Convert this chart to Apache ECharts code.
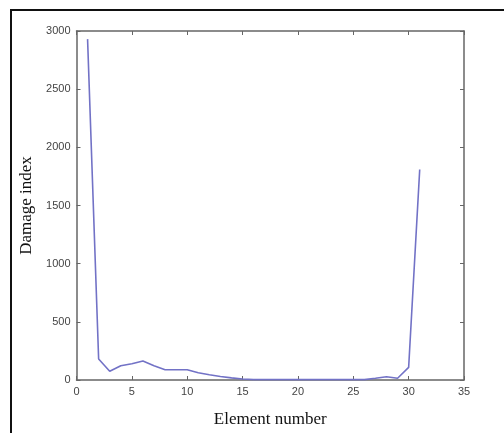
<!DOCTYPE html>
<html>
<head>
<meta charset="utf-8">
<script src="https://cdn.jsdelivr.net/npm/echarts@6/dist/echarts.min.js"></script>
<style>
  html, body { margin: 0; padding: 0; background: #fff; }
  #frame { position: absolute; left: 10px; top: 9px; right: -4px; bottom: -4px;
           border-left: 2px solid #111; border-top: 2px solid #111; }
  #chart { position: absolute; left: 0; top: 0; width: 504px; height: 433px; }
</style>
</head>
<body>
<div id="frame"></div>
<div id="chart"></div>
<script>
// Damage index per element
const elements = [1, 2, 3, 4, 5, 6, 7, 8, 9, 10, 11, 12, 13, 14, 15, 16, 17, 18, 19, 20,
                  21, 22, 23, 24, 25, 26, 27, 28, 29, 30, 31];
const damageIndex = [2930, 180, 75, 123, 140, 163, 122, 88, 88, 88, 62, 45, 30, 18, 8, 3, 3, 3, 3, 3,
                     3, 3, 3, 3, 3, 3, 15, 28, 15, 108, 1810];
const xTicks = [0, 5, 10, 15, 20, 25, 30, 35];
const yTicks = [0, 500, 1000, 1500, 2000, 2500, 3000];

const axisColor = '#666';
const tickFont = { fontFamily: 'Liberation Sans', fontSize: 11, color: '#444',
                   formatter: v => String(v) };

function boxAxis(base, show) {
  return Object.assign({
    axisLine: { show: true, onZero: false, lineStyle: { color: axisColor, width: 1.5 } },
    axisTick: { show: true, inside: true, length: 4, lineStyle: { color: axisColor, width: 1 } },
    splitLine: { show: false },
    axisLabel: Object.assign({ show: show, margin: 6 }, tickFont)
  }, base);
}

const nameFont = { fontFamily: 'Liberation Serif', fontSize: 17, color: '#111' };

const chart = echarts.init(document.getElementById('chart'));
chart.setOption({
  animation: false,
  grid: { left: 76.5, right: 40, top: 31, bottom: 52 },
  xAxis: [
    boxAxis({ type: 'value', position: 'bottom', min: xTicks[0], max: xTicks[xTicks.length - 1], interval: 5,
              name: 'Element number', nameLocation: 'middle', nameGap: 31, nameTextStyle: nameFont }, true),
    boxAxis({ type: 'value', position: 'top', min: xTicks[0], max: xTicks[xTicks.length - 1], interval: 5 }, false)
  ],
  yAxis: [
    boxAxis({ type: 'value', position: 'left', min: yTicks[0], max: yTicks[yTicks.length - 1], interval: 500,
              name: 'Damage index', nameLocation: 'middle', nameGap: 38, nameTextStyle: nameFont }, true),
    boxAxis({ type: 'value', position: 'right', min: yTicks[0], max: yTicks[yTicks.length - 1], interval: 500 }, false)
  ],
  series: [{
    type: 'line',
    xAxisIndex: 0,
    yAxisIndex: 0,
    data: elements.map((e, i) => [e, damageIndex[i]]),
    showSymbol: false,
    symbol: 'none',
    lineStyle: { color: '#7272c6', width: 1.6 }
  }]
});
</script>
</body>
</html>
